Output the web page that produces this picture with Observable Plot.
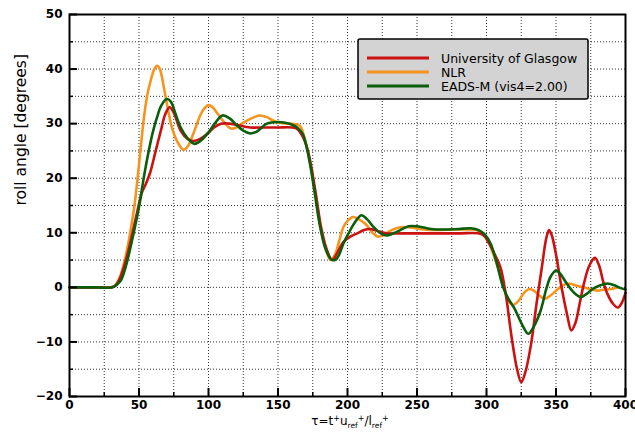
<!DOCTYPE html>
<html><head><meta charset="utf-8">
<script src="https://cdn.jsdelivr.net/npm/d3@7"></script>
<script src="https://cdn.jsdelivr.net/npm/@observablehq/plot@0.6"></script>
<style>body{margin:0;background:#fff;} #chart{width:635px;height:437px;}</style>
</head><body><div id="chart"></div>
<script>
// ---- data ----
const seriesNames = ["University of Glasgow", "NLR", "EADS-M (vis4=2.00)"];
const seriesColors = ["#cc1111", "#f7941d", "#0b5e0b"];
const glasgow = [[0,0],[10,0],[20,0],[30,0],[33,0.3],[36,1.5],[40,4.5],[44,8.5],[48,13],[52,17.3],[55,19],[58,21],[62,25],[66,29],[69,31.8],[72,33],[75,32],[80,28.7],[85,27.2],[89,26.8],[94,27.2],[99,28.1],[104,29.3],[109,30],[115,30],[120,29.8],[130,29.3],[140,29.3],[150,29.3],[160,29.3],[164,29],[168,27.5],[172,24.5],[177,17.5],[181,11],[185,7],[189,5],[193,6.5],[197,8.3],[202,9.3],[207,9.9],[212,10.5],[216,10.7],[222,10.3],[228,9.9],[240,9.9],[260,9.9],[280,9.9],[294,9.9],[298,9.5],[302,8],[306,6],[310,3.7],[314,-1.5],[318,-9],[322,-15],[325,-17.4],[328,-15.5],[332,-10.5],[336,-3],[340,4],[343,9],[345,10.5],[347,9.5],[350,6],[354,0],[358,-5],[361,-7.9],[364,-6.5],[367,-3],[370,0.6],[374,4],[378,5.4],[381,4],[384,1],[387,-1.2],[391,-3],[394.5,-3.7],[397,-3],[400,-1.0]];
const nlr = [[0,0],[10,0],[20,0],[30,0],[33,0.4],[36,1.7],[40,5.2],[44,10.5],[47,15.5],[51,25],[53.5,31],[56,35.3],[58,37.5],[61,40],[63,40.6],[65,40],[68,36.5],[71,32.4],[74,29],[78,26.5],[82,25.2],[85,25.8],[89,28.1],[94,31.5],[97,32.8],[100,33.4],[103,33],[106,32],[109,31],[112,30],[116,29.1],[120,29.3],[124,30],[128,30.6],[133,31.2],[137,31.5],[142,31.2],[147,30.5],[152,30.1],[158,30],[163,29.9],[166,29.5],[169,27.5],[173,23],[177,17],[181,10.5],[185,6.5],[188,5],[191,6],[194,8.5],[197,11],[200,12.2],[204,12.9],[208,12.5],[213,11.6],[218,10],[222,9.3],[226,9.6],[231,10.4],[238,11],[245,11],[255,10.6],[265,10.5],[275,10.6],[285,10.6],[293,10.5],[297,9.8],[301,8.5],[305,6],[309,3],[313,-0.5],[316,-2.5],[319,-3.2],[323,-2.5],[327,-1],[331,-0.3],[334,-0.6],[338,-1.5],[342,-2.1],[346,-1.5],[351,-0.4],[356,0.5],[360,0.65],[365,0.3],[370,0],[375,-0.4],[380,-0.6],[385,-0.4],[391,-0.25],[395,0]];
const eads = [[0,0],[10,0],[20,0],[31,0],[34,0.5],[37,1.3],[41,4.3],[46,9.8],[50,14.7],[53.5,20.2],[57,25],[60,28.5],[63,31.2],[66,33.3],[70,34.5],[73,34],[76,32],[80,29.3],[85,27.3],[90,26.3],[95,27],[100,28.4],[105,30.2],[110,31.5],[115,31],[120,29.8],[125,28.7],[130,28.2],[135,28.6],[142,30],[150,30.3],[156,30.1],[161,29.7],[165,29],[168,28],[172,24],[176,18],[180,11.5],[184,7.2],[188,5.2],[191,5],[194,6],[197,8],[201,10],[205,11.8],[210,13.2],[214,12.5],[219,11],[224,9.9],[228,9.5],[233,9.9],[238,10.5],[244,11.2],[250,11.2],[260,10.7],[270,10.6],[280,10.7],[290,10.8],[295,10.4],[299,9.6],[303,8],[307.5,4.3],[312,0],[316,-2.2],[320,-3.8],[325,-6.5],[330,-8.5],[334,-7.2],[339,-4.2],[343,-0.3],[346,1.9],[350,3.1],[353,2.5],[358,0.6],[363,-1],[368,-1.8],[372,-1.2],[377,-0.2],[382,0.4],[387,0.7],[392,0.4],[396,-0.1],[400,-0.4]];
const xTickLabels = [0, 50, 100, 150, 200, 250, 300, 350, 400];
const xMinorTicks = [25, 75, 125, 175, 225, 275, 325, 375];
const yTickLabels = [-20, -10, 0, 10, 20, 30, 40, 50];
const yMinorTicks = [-15, -5, 5, 15, 25, 35, 45];
const xGrid = [25, 50, 75, 100, 125, 150, 175, 200, 225, 250, 275, 300, 325, 350, 375];
const yGrid = [-15, -10, -5, 0, 5, 10, 15, 20, 25, 30, 35, 40, 45];
const yLabel = "roll angle [degrees]";

// ---- build table ----
const seriesData = [glasgow, nlr, eads];
const rows = [];
const drawOrder = [1, 0, 2];
for (const i of drawOrder) for (const [x, y] of seriesData[i]) rows.push({series: seriesNames[i], x, y});

const W = 635, H = 437, mL = 69, mR = 10, mT = 14, mB = 41;
const plotH = H - mT - mB;
const font = "DejaVu Sans, Verdana, sans-serif";

const chart = Plot.plot({
  width: W, height: H,
  marginLeft: mL, marginRight: mR, marginTop: mT, marginBottom: mB,
  style: {fontFamily: font, fontSize: "12px", color: "#000", background: "#fff", overflow: "visible"},
  x: {domain: [0, 400]},
  y: {domain: [-20, 50]},
  color: {domain: seriesNames, range: seriesColors},
  marks: [
    Plot.ruleX(xGrid, {stroke: "#333", strokeWidth: 1, strokeDasharray: "1,2"}),
    Plot.ruleY(yGrid, {stroke: "#333", strokeWidth: 1, strokeDasharray: "1,2"}),
    Plot.line(rows, {x: "x", y: "y", z: "series", stroke: "series", strokeWidth: 2.6, curve: "catmull-rom"}),
    Plot.tickX(xTickLabels, {x: d => d, insetTop: plotH - 8, stroke: "#000", strokeWidth: 2}),
    Plot.tickX(xMinorTicks, {x: d => d, insetTop: plotH - 4, stroke: "#000", strokeWidth: 1.5}),
    Plot.tickY(yTickLabels, {y: d => d, insetRight: (W - mL - mR) - 8, stroke: "#000", strokeWidth: 2}),
    Plot.tickY(yMinorTicks, {y: d => d, insetRight: (W - mL - mR) - 4, stroke: "#000", strokeWidth: 1.5}),
    Plot.frame({stroke: "#000", strokeWidth: 2}),
    Plot.axisX(xTickLabels, {tickSize: 0, tickPadding: 4, label: null, fontWeight: "bold"}),
    Plot.axisY(yTickLabels, {tickSize: 0, tickPadding: 7, label: null, fontWeight: "bold"}),
    Plot.text([yLabel], {frameAnchor: "left", rotate: -90, dx: -48, fontSize: 15.5, fontFamily: font})
  ]
});
document.getElementById("chart").appendChild(chart);

// ---- x axis label with sub/superscripts ----
const svg = d3.select(chart);
const xs = chart.scale("x");
const xCenter = (xs.apply(0) + xs.apply(400)) / 2 + 3;
const lab = svg.append("text")
  .attr("x", xCenter).attr("y", 425)
  .attr("text-anchor", "middle")
  .attr("font-family", font).attr("font-size", 12).attr("fill", "#000");
const parts = [
  ["τ=t", 0, 12], ["+", -4, 8], ["u", 4, 12], ["ref", 3, 7.5], ["+", -7, 8],
  ["/l", 4, 12], ["ref", 3, 7.5], ["+", -7, 8]
];
for (const [t, dy, fs] of parts) lab.append("tspan").attr("dy", dy).attr("font-size", fs).text(t);

// ---- legend ----
const lg = svg.append("g").attr("font-family", font).attr("font-size", 12.5).attr("text-anchor", "start");
lg.append("rect").attr("x", 358).attr("y", 39).attr("width", 230).attr("height", 60)
  .attr("rx", 2).attr("fill", "#d3d3d3").attr("stroke", "#000").attr("stroke-width", 1.5);
seriesNames.forEach((name, i) => {
  const y = 58 + i * 14;
  lg.append("line").attr("x1", 367).attr("x2", 429).attr("y1", y).attr("y2", y)
    .attr("stroke", seriesColors[i]).attr("stroke-width", 3);
  lg.append("text").attr("x", 441).attr("y", y).attr("dy", "0.36em").attr("text-anchor", "start").attr("fill", "#000").text(name);
});
</script>
</body></html>
